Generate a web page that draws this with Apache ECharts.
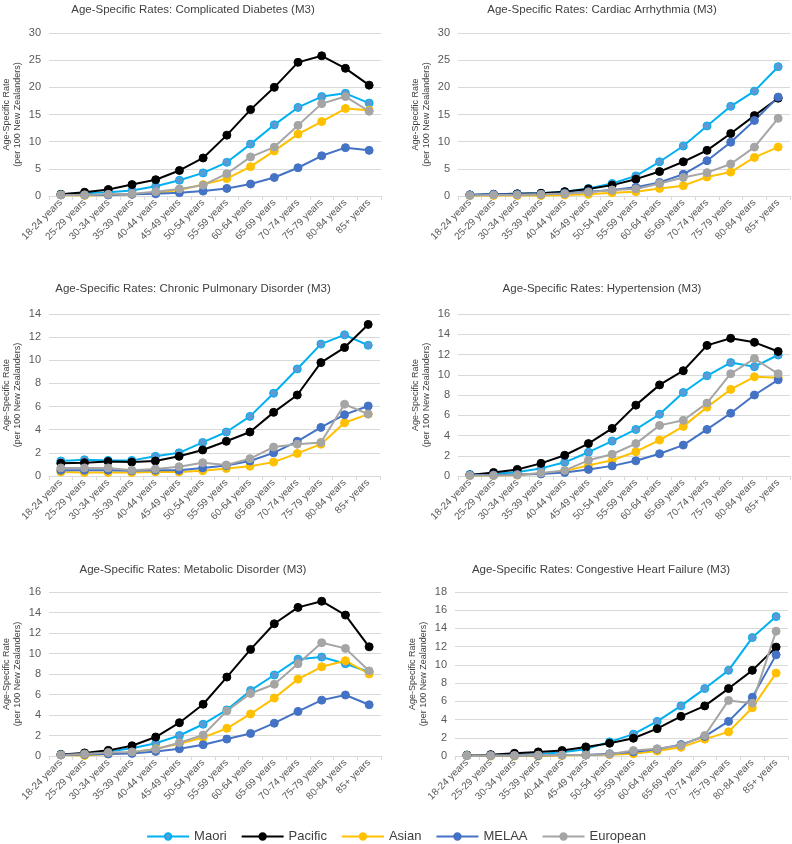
<!DOCTYPE html>
<html>
<head>
<meta charset="utf-8">
<script src="https://cdn.jsdelivr.net/npm/echarts@6/dist/echarts.min.js"></script>
<style>html,body{margin:0;padding:0;background:#fff}#c{width:792px;height:844px}</style>
</head>
<body>
<div id="c"></div>
<script>
const categories = ['18-24 years','25-29 years','30-34 years','35-39 years','40-44 years','45-49 years','50-54 years','55-59 years','60-64 years','65-69 years','70-74 years','75-79 years','80-84 years','85+ years'];
const groupNames = ['Maori','Pacific','Asian','MELAA','European'];
const chartTitles = [
  'Age-Specific Rates: Complicated Diabetes (M3)',
  'Age-Specific Rates: Cardiac Arrhythmia (M3)',
  'Age-Specific Rates: Chronic Pulmonary Disorder (M3)',
  'Age-Specific Rates: Hypertension (M3)',
  'Age-Specific Rates: Metabolic Disorder (M3)',
  'Age-Specific Rates: Congestive Heart Failure (M3)'
];
const yMax = [30, 30, 14, 16, 16, 18];
const yStep = [5, 5, 2, 2, 2, 2];

// Complicated Diabetes
const diabetesMaori    = [0.3,0.5,0.7,1.0,1.8,2.9,4.25,6.2,9.55,13.1,16.3,18.3,18.9,17.1];
const diabetesPacific  = [0.3,0.7,1.2,2.1,3.0,4.7,7.0,11.2,15.9,20.0,24.6,25.8,23.5,20.4];
const diabetesAsian    = [0.2,0.1,0.2,0.3,0.6,1.1,2.1,3.2,5.4,8.3,11.4,13.7,16.1,15.8];
const diabetesMELAA    = [0.2,0.2,0.2,0.3,0.4,0.6,0.9,1.4,2.2,3.4,5.2,7.4,8.9,8.4];
const diabetesEuropean = [0.2,0.2,0.3,0.4,0.8,1.3,2.0,4.1,7.2,9.0,13.0,17.0,18.3,15.6];

// Cardiac Arrhythmia
const arrhythmiaMaori    = [0.2,0.3,0.4,0.5,0.8,1.4,2.3,3.7,6.3,9.2,12.9,16.5,19.3,23.8];
const arrhythmiaPacific  = [0.2,0.3,0.4,0.5,0.8,1.3,2.0,3.1,4.5,6.3,8.4,11.5,14.8,18.0];
const arrhythmiaAsian    = [0.1,0.1,0.1,0.1,0.2,0.3,0.6,0.8,1.4,1.9,3.5,4.4,7.1,9.0];
const arrhythmiaMELAA    = [0.2,0.3,0.3,0.3,0.5,0.8,1.1,1.6,2.5,4.0,6.5,9.9,13.9,18.2];
const arrhythmiaEuropean = [0.1,0.2,0.2,0.3,0.4,0.7,1.1,1.3,2.3,3.4,4.3,5.9,9.0,14.3];

// Chronic Pulmonary Disorder
const pulmonaryMaori    = [1.3,1.4,1.35,1.35,1.7,2.0,2.9,3.8,5.15,7.15,9.25,11.4,12.2,11.3];
const pulmonaryPacific  = [1.1,1.15,1.25,1.2,1.3,1.7,2.25,3.0,3.8,5.5,7.0,9.8,11.1,13.1];
const pulmonaryAsian    = [0.35,0.3,0.3,0.3,0.35,0.35,0.45,0.65,0.85,1.2,1.95,2.75,4.6,5.35];
const pulmonaryMELAA    = [0.5,0.5,0.5,0.45,0.5,0.5,0.7,0.9,1.3,2.0,3.0,4.2,5.3,6.05];
const pulmonaryEuropean = [0.7,0.7,0.7,0.5,0.6,0.8,1.15,0.95,1.5,2.5,2.75,2.9,6.2,5.35];

// Hypertension
const hypertensionMaori    = [0.15,0.2,0.4,0.75,1.35,2.35,3.45,4.6,6.1,8.25,9.9,11.2,10.8,11.95];
const hypertensionPacific  = [0.1,0.35,0.65,1.25,2.05,3.2,4.7,7.0,9.0,10.4,12.9,13.6,13.2,12.3];
const hypertensionAsian    = [0.05,0.05,0.1,0.25,0.5,1.05,1.55,2.4,3.55,4.9,6.8,8.55,9.8,9.7];
const hypertensionMELAA    = [0.1,0.1,0.15,0.2,0.35,0.65,1.0,1.5,2.2,3.05,4.6,6.2,8.0,9.5];
const hypertensionEuropean = [0.05,0.05,0.1,0.3,0.55,1.55,2.15,3.2,5.0,5.5,7.2,10.1,11.6,10.1];

// Metabolic Disorder
const metabolicMaori    = [0.15,0.25,0.45,0.75,1.25,2.0,3.1,4.5,6.4,7.9,9.45,9.65,9.0,8.2];
const metabolicPacific  = [0.15,0.3,0.55,1.0,1.85,3.25,5.05,7.7,10.4,12.9,14.5,15.1,13.75,10.65];
const metabolicAsian    = [0.1,0.05,0.2,0.35,0.7,1.2,1.8,2.7,4.1,5.65,7.5,8.7,9.3,8.0];
const metabolicMELAA    = [0.1,0.15,0.2,0.25,0.45,0.7,1.1,1.65,2.2,3.2,4.35,5.45,5.95,5.0];
const metabolicEuropean = [0.1,0.2,0.35,0.4,0.65,1.3,2.05,4.4,6.1,7.0,9.0,11.05,10.5,8.3];

// Congestive Heart Failure
const heartFailureMaori    = [0.1,0.1,0.15,0.2,0.4,0.75,1.55,2.4,3.8,5.5,7.4,9.4,13.0,15.3];
const heartFailurePacific  = [0.1,0.15,0.3,0.45,0.6,1.0,1.4,1.95,3.0,4.35,5.5,7.4,9.4,11.95];
const heartFailureAsian    = [0.05,0.0,0.0,0.0,0.05,0.1,0.15,0.25,0.55,0.95,1.85,2.65,5.3,9.1];
const heartFailureMELAA    = [0.05,0.05,0.05,0.05,0.1,0.1,0.25,0.45,0.75,1.25,2.15,3.8,6.45,11.1];
const heartFailureEuropean = [0.05,0.05,0.05,0.1,0.1,0.1,0.2,0.6,0.8,1.15,2.25,6.1,5.8,13.7];

const chartData = [
  [diabetesMaori, diabetesPacific, diabetesAsian, diabetesMELAA, diabetesEuropean],
  [arrhythmiaMaori, arrhythmiaPacific, arrhythmiaAsian, arrhythmiaMELAA, arrhythmiaEuropean],
  [pulmonaryMaori, pulmonaryPacific, pulmonaryAsian, pulmonaryMELAA, pulmonaryEuropean],
  [hypertensionMaori, hypertensionPacific, hypertensionAsian, hypertensionMELAA, hypertensionEuropean],
  [metabolicMaori, metabolicPacific, metabolicAsian, metabolicMELAA, metabolicEuropean],
  [heartFailureMaori, heartFailurePacific, heartFailureAsian, heartFailureMELAA, heartFailureEuropean]
];

const lineColors = ['#00B0F0','#000000','#FFC000','#4472C4','#A5A5A5'];
const markerColors = ['#5B9BD5','#000000','#FFC000','#4472C4','#A5A5A5'];

const grids = [
  {left:49, top:33, width:332, height:163},
  {left:458, top:33, width:332, height:163},
  {left:49, top:314, width:331, height:162},
  {left:458, top:314, width:332, height:162},
  {left:49, top:592, width:332, height:164},
  {left:455, top:592, width:333, height:164}
];
const titlePos = [[188,-1],[597,-1],[188,278],[597,278],[188,559],[596,559]];

const FONT = '"Liberation Sans", Arial, sans-serif';
const option = {
  animation:false,
  backgroundColor:'#ffffff',
  textStyle:{fontFamily:FONT},
  title: chartTitles.map((t,i)=>({
    text:t, left:titlePos[i][0], top:titlePos[i][1], textAlign:'center',
    textStyle:{fontSize:11.5, fontWeight:'normal', color:'#404040', fontFamily:FONT}
  })),
  legend:{
    data:groupNames, bottom:-4, left:'center', itemWidth:42, itemHeight:8, itemGap:14,
    textStyle:{fontSize:13, color:'#404040', fontFamily:FONT}
  },
  grid: grids,
  xAxis: grids.map((g,i)=>({
    type:'category', gridIndex:i, data:categories, boundaryGap:true,
    axisLine:{lineStyle:{color:'#D9D9D9'}},
    axisTick:{show:true, length:4, lineStyle:{color:'#D9D9D9'}},
    axisLabel:{rotate:45, fontSize:10, color:'#595959', margin:5, interval:0}
  })),
  yAxis: grids.map((g,i)=>({
    type:'value', gridIndex:i, min:0, max:yMax[i], interval:yStep[i],
    name:'Age-Specific Rate\n(per 100 New Zealanders)',
    nameLocation:'middle', nameRotate:90, nameGap:26,
    nameTextStyle:{fontSize:9, color:'#404040', lineHeight:11},
    axisLine:{show:false}, axisTick:{show:false},
    splitLine:{lineStyle:{color:'#D9D9D9'}},
    axisLabel:{fontSize:11, color:'#595959', margin:8}
  })),
  series: []
};
chartData.forEach((sets,ci)=>{
  sets.forEach((vals,si)=>{
    option.series.push({
      name:groupNames[si], type:'line', xAxisIndex:ci, yAxisIndex:ci, data:vals,
      symbol:'circle', symbolSize:8,
      lineStyle:{color:lineColors[si], width:2},
      itemStyle:{color:markerColors[si], borderColor:lineColors[si], borderWidth:1}
    });
  });
});
const chart = echarts.init(document.getElementById('c'), null, {renderer:'canvas'});
chart.setOption(option);
</script>
</body>
</html>
